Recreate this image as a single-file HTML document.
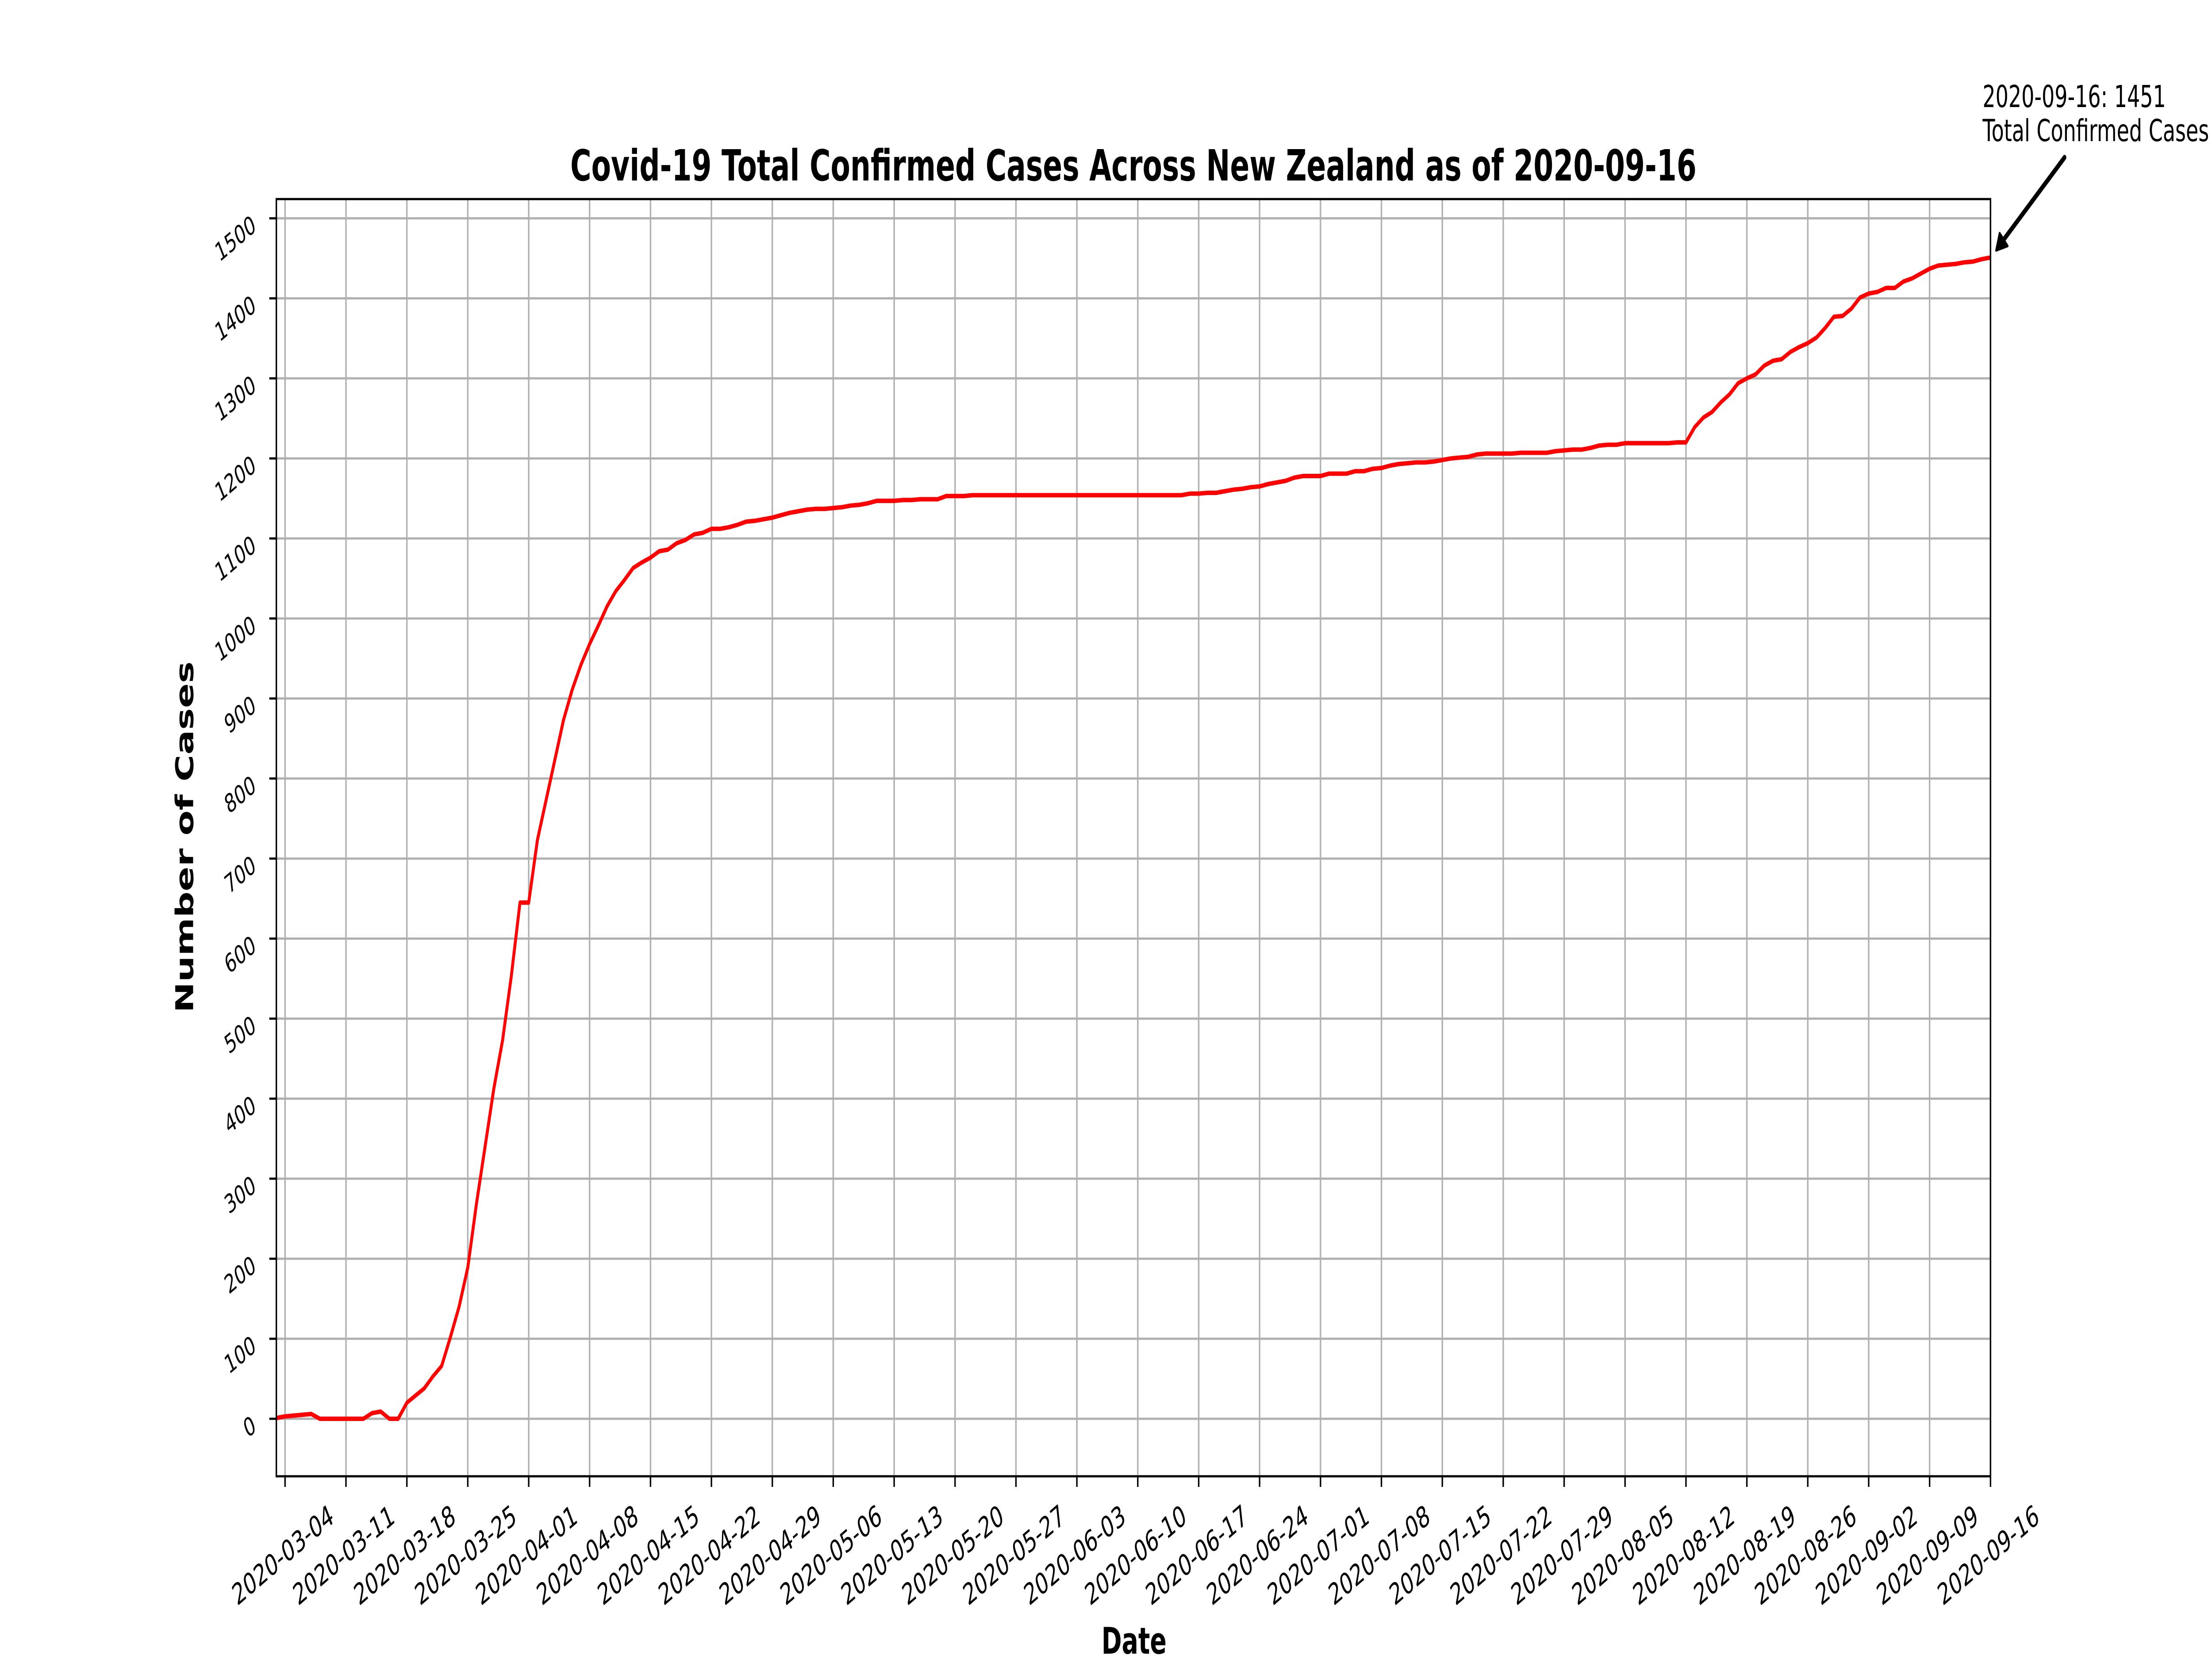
<!DOCTYPE html>
<html><head><meta charset="utf-8"><style>
html,body{margin:0;padding:0;background:#fff;width:100vw;height:100vh;overflow:hidden;}
svg{display:block;width:100vw;height:100vh;font-family:"DejaVu Sans","Liberation Sans",sans-serif;}
</style></head><body>
<svg id="chart" xmlns="http://www.w3.org/2000/svg" viewBox="0 0 7500 3750" preserveAspectRatio="none">
<rect width="7500" height="3750" fill="#fff"/>
<g id="grid"></g>
<g id="series"></g>
<g id="axes"></g>
<text x="3843" y="408" font-size="97" font-weight="bold" text-anchor="middle">Covid-19 Total Confirmed Cases Across New Zealand as of 2020-09-16</text>
<text x="3845" y="3738" font-size="83" font-weight="bold" text-anchor="middle">Date</text>
<text transform="translate(655,1892) rotate(-90)" font-size="83" font-weight="bold" text-anchor="middle">Number of Cases</text>
<g>
<text x="6722" y="242" font-size="69">2020-09-16: 1451</text>
<text x="6722" y="319" font-size="69">Total Confirmed Cases</text>
<line x1="7000" y1="356" x2="6790" y2="545" stroke="#000" stroke-width="12" stroke-linecap="round"/>
<polygon points="6768,566 6780,527 6807,556" fill="#000" stroke="#000" stroke-width="6" stroke-linejoin="round"/>
</g>
</svg>
<script>
const startDate = "2020-03-03";
const cases = [1,3,4,5,6,0,0,0,0,0,0,7,9,0,0,20,29,38,53,66,102,140,189,269,341,413,473,553,645,645,
723,773,823,873,911,942,968,991,1015,1034,1048,1063,1070,1076,1084,1086,1094,1098,1105,1107,
1112,1112,1114,1117,1121,1122,1124,1126,1129,1132,1134,1136,1137,1137,1138,1139,1141,1142,1144,1147,
1147,1147,1148,1148,1149,1149,1149,1153,1153,1153,1154,1154,1154,1154,1154,1154,1154,1154,1154,1154,
1154,1154,1154,1154,1154,1154,1154,1154,1154,1154,1154,1154,1154,1154,1154,1156,1156,1157,1157,1159,
1161,1162,1164,1165,1168,1170,1172,1176,1178,1178,1178,1181,1181,1181,1184,1184,1187,1188,1191,1193,
1194,1195,1195,1196,1198,1200,1201,1202,1205,1206,1206,1206,1206,1207,1207,1207,1207,1209,1210,1211,
1211,1213,1216,1217,1217,1219,1219,1219,1219,1219,1219,1220,1220,1239,1251,1258,1270,1280,1294,1300,
1305,1316,1322,1324,1333,1339,1344,1351,1363,1377,1378,1387,1401,1406,1408,1413,1413,1421,1425,1431,
1437,1441,1442,1443,1445,1446,1449,1451];
const xTickLabels = ["2020-03-04","2020-03-11","2020-03-18","2020-03-25","2020-04-01","2020-04-08","2020-04-15","2020-04-22","2020-04-29","2020-05-06","2020-05-13","2020-05-20","2020-05-27","2020-06-03","2020-06-10","2020-06-17","2020-06-24","2020-07-01","2020-07-08","2020-07-15","2020-07-22","2020-07-29","2020-08-05","2020-08-12","2020-08-19","2020-08-26","2020-09-02","2020-09-09","2020-09-16"];
const yTickValues = [0,100,200,300,400,500,600,700,800,900,1000,1100,1200,1300,1400,1500];

const NS = "http://www.w3.org/2000/svg";
const L = 937, R = 6749, T = 450, B = 3337;
const y0px = 3207, pxPer = 1.809;
const day0 = Date.parse(startDate + "T00:00:00Z");
const nDays = cases.length - 1;
function dayOf(s){ return (Date.parse(s + "T00:00:00Z") - day0) / 86400000; }
function xScale(d){ return L + (R - L) * d / nDays; }
function yScale(v){ return y0px - v * pxPer; }
function mk(tag, attrs, parent){ const e = document.createElementNS(NS, tag); for (const k in attrs) e.setAttribute(k, attrs[k]); parent.appendChild(e); return e; }

const grid = document.getElementById("grid");
const axes = document.getElementById("axes");
const series = document.getElementById("series");

xTickLabels.forEach(lab => {
  const x = xScale(dayOf(lab));
  const g = mk("line", {x1:x, x2:x, y1:T, y2:B, stroke:"#b0b0b0", "stroke-width":5}, grid);
  
  
  const t = mk("line", {x1:x, x2:x, y1:B, y2:B+24, stroke:"#000", "stroke-width":5}, axes);
  
  
  const tx = mk("text", {transform:`translate(${x+170},3439) rotate(-30)`, "font-size":66, "text-anchor":"end"}, axes);
  tx.textContent = lab;
  
  
});
yTickValues.forEach(v => {
  const y = yScale(v);
  const g = mk("line", {x1:L, x2:R, y1:y, y2:y, stroke:"#b0b0b0", "stroke-width":5}, grid);
  
  
  const t = mk("line", {x1:L-24, x2:L, y1:y, y2:y, stroke:"#000", "stroke-width":5}, axes);
  
  
  const tx = mk("text", {transform:`translate(872,${y+26}) rotate(-30)`, "font-size":58, "text-anchor":"end"}, axes);
  tx.textContent = String(v);
  
  
});

const pts = cases.map((v,i) => xScale(i).toFixed(1) + "," + yScale(v).toFixed(1)).join(" ");
const line = mk("polyline", {points:pts, fill:"none", stroke:"#ff0000", "stroke-width":10, "stroke-linejoin":"round"}, series);



const frame = mk("rect", {x:L, y:T, width:R-L, height:B-T, fill:"none", stroke:"#000", "stroke-width":5}, axes);


</script>
</body></html>
